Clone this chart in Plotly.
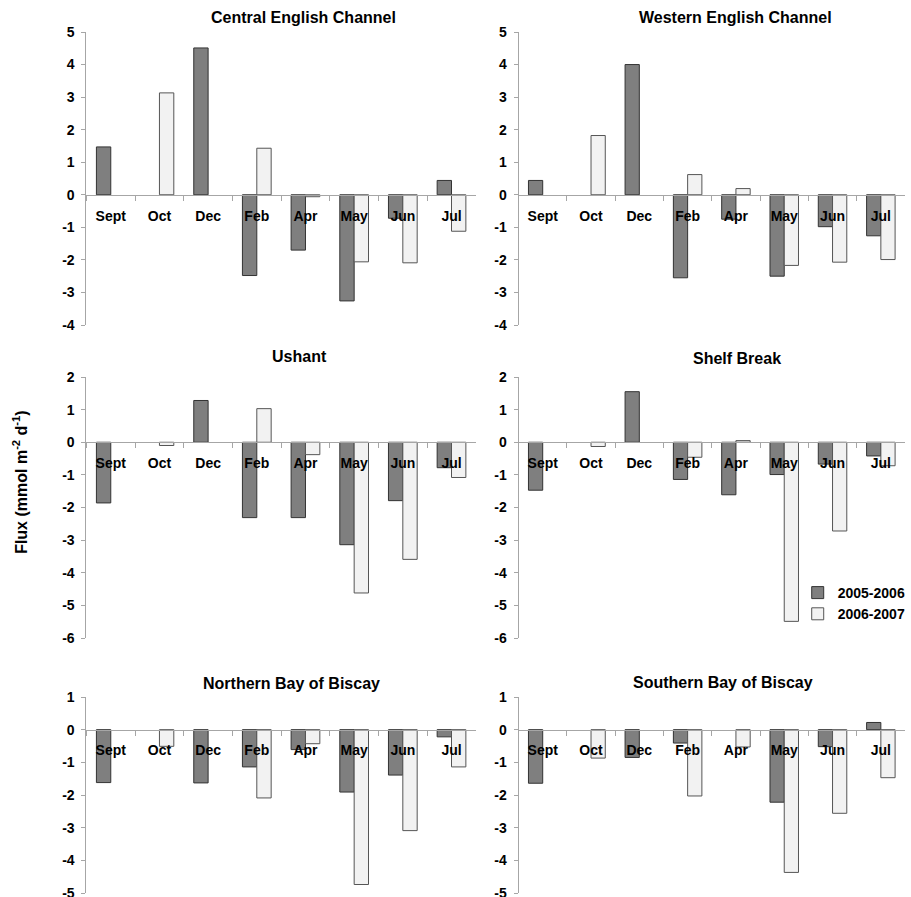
import plotly.graph_objects as go

months = ["Sept", "Oct", "Dec", "Feb", "Apr", "May", "Jun", "Jul"]
series_names = ["2005-2006", "2006-2007"]

central_0506 = [1.47, None, 4.51, -2.48, -1.70, -3.26, -0.72, 0.44]
central_0607 = [None, 3.13, None, 1.43, -0.06, -2.06, -2.09, -1.12]
western_0506 = [0.44, None, 4.00, -2.55, -0.75, -2.50, -0.98, -1.26]
western_0607 = [None, 1.82, None, 0.62, 0.19, -2.17, -2.07, -1.99]
ushant_0506 = [-1.86, None, 1.28, -2.31, -2.31, -3.14, -1.79, -0.78]
ushant_0607 = [None, -0.10, None, 1.03, -0.38, -4.62, -3.59, -1.08]
shelf_0506 = [-1.47, None, 1.55, -1.14, -1.61, -0.99, -0.67, -0.42]
shelf_0607 = [None, -0.13, None, -0.46, 0.05, -5.49, -2.72, -0.72]
north_0506 = [-1.62, None, -1.63, -1.14, -0.61, -1.91, -1.39, -0.22]
north_0607 = [None, -0.51, None, -2.09, -0.43, -4.74, -3.09, -1.14]
south_0506 = [-1.64, None, -0.85, -0.41, None, -2.22, -0.52, 0.22]
south_0607 = [None, -0.87, None, -2.03, -0.53, -4.37, -2.56, -1.47]

titles = ["Central English Channel", "Western English Channel", "Ushant",
          "Shelf Break", "Northern Bay of Biscay", "Southern Bay of Biscay"]
panels = [(central_0506, central_0607), (western_0506, western_0607),
          (ushant_0506, ushant_0607), (shelf_0506, shelf_0607),
          (north_0506, north_0607), (south_0506, south_0607)]
y_ranges = [(-4, 5), (-4, 5), (-6, 2), (-6, 2), (-5, 1), (-5, 1)]

W, H = 911, 897
x_doms = [(87 / W, 479 / W), (522 / W, 1.0)]
y_doms = [(1 - 325 / H, 1 - 32 / H), (1 - 638 / H, 1 - 377 / H), (1 - 893 / H, 1 - 697 / H)]
title_px = [(306, 17), (740, 18), (301, 357), (742, 358), (293, 683), (728, 682)]

dark_fill, dark_line = "#7f7f7f", "#333333"
light_fill, light_line = "#f2f2f2", "#555555"
axis_col = "#a6a6a6"
FONT = "Arial, Liberation Sans, sans-serif"

fig = go.Figure()
layout = dict(width=W, height=H, margin=dict(l=0, r=0, t=0, b=0, pad=0),
              autosize=False,
              plot_bgcolor="white", paper_bgcolor="white",
              barmode="group", bargap=0.41, bargroupgap=0,
              font=dict(family=FONT, color="black"),
              showlegend=True,
              legend=dict(x=803 / W, y=1 - 577 / H, xanchor="left", yanchor="top",
                          font=dict(family=FONT, size=14, weight="bold"),
                          itemwidth=30, tracegroupgap=0, bgcolor="rgba(0,0,0,0)"),
              annotations=[])

for i, (title, (s1, s2), yr) in enumerate(zip(titles, panels, y_ranges)):
    row, col = i // 2, i % 2
    n = i + 1
    xa = "x" if n == 1 else f"x{n}"
    ya = "y" if n == 1 else f"y{n}"
    fig.add_trace(go.Bar(x=months, y=s1, name=series_names[0], xaxis=xa, yaxis=ya,
                         marker=dict(color=dark_fill, line=dict(color=dark_line, width=1)),
                         showlegend=(n == 4), legendgroup="a"))
    fig.add_trace(go.Bar(x=months, y=s2, name=series_names[1], xaxis=xa, yaxis=ya,
                         marker=dict(color=light_fill, line=dict(color=light_line, width=1)),
                         showlegend=(n == 4), legendgroup="b"))
    yd = y_doms[row]
    xd = x_doms[col]
    ymin, ymax = yr
    zero_pos = yd[0] + (0 - ymin) / (ymax - ymin) * (yd[1] - yd[0])
    tv = list(range(ymin, ymax + 1))
    layout["xaxis" if n == 1 else f"xaxis{n}"] = dict(
        domain=list(xd), anchor="free", position=zero_pos,
        type="category", range=[-0.5, 7.5], showline=True, linecolor=axis_col, linewidth=1,
        ticks="outside", tickson="boundaries", ticklen=5, tickcolor=axis_col,
        tickfont=dict(family=FONT, size=14, weight="bold", color="black"),
        ticklabelstandoff=8, showgrid=False, zeroline=False, fixedrange=True,
        automargin=False, ticklabeloverflow="allow")
    layout["yaxis" if n == 1 else f"yaxis{n}"] = dict(
        domain=list(yd), anchor=xa, range=[ymin, ymax], tickvals=tv,
        ticktext=[str(v) for v in tv], showline=True, linecolor=axis_col, linewidth=1,
        ticks="outside", ticklen=4, tickcolor=axis_col, showgrid=False, zeroline=False,
        tickfont=dict(family=FONT, size=14, weight="bold", color="black"),
        ticklabelstandoff=4, automargin=False, ticklabeloverflow="allow", fixedrange=True)
    tx, ty = title_px[i]
    layout["annotations"].append(dict(
        text=title, x=tx / W, y=1 - ty / H, xref="paper", yref="paper",
        xanchor="center", yanchor="middle", showarrow=False,
        font=dict(family=FONT, size=16, weight="bold", color="black")))

layout["annotations"].append(dict(
    text="Flux (mmol m<sup>-2</sup> d<sup>-1</sup>)", x=20 / W, y=1 - 482 / H,
    xref="paper", yref="paper", xanchor="center", yanchor="middle", textangle=-90,
    showarrow=False, font=dict(family=FONT, size=16, weight="bold", color="black")))

fig.update_layout(**layout)
fig.write_html("out.html", config={"displayModeBar": False},
               post_script="document.body.style.margin='0';document.body.style.overflow='hidden';")
